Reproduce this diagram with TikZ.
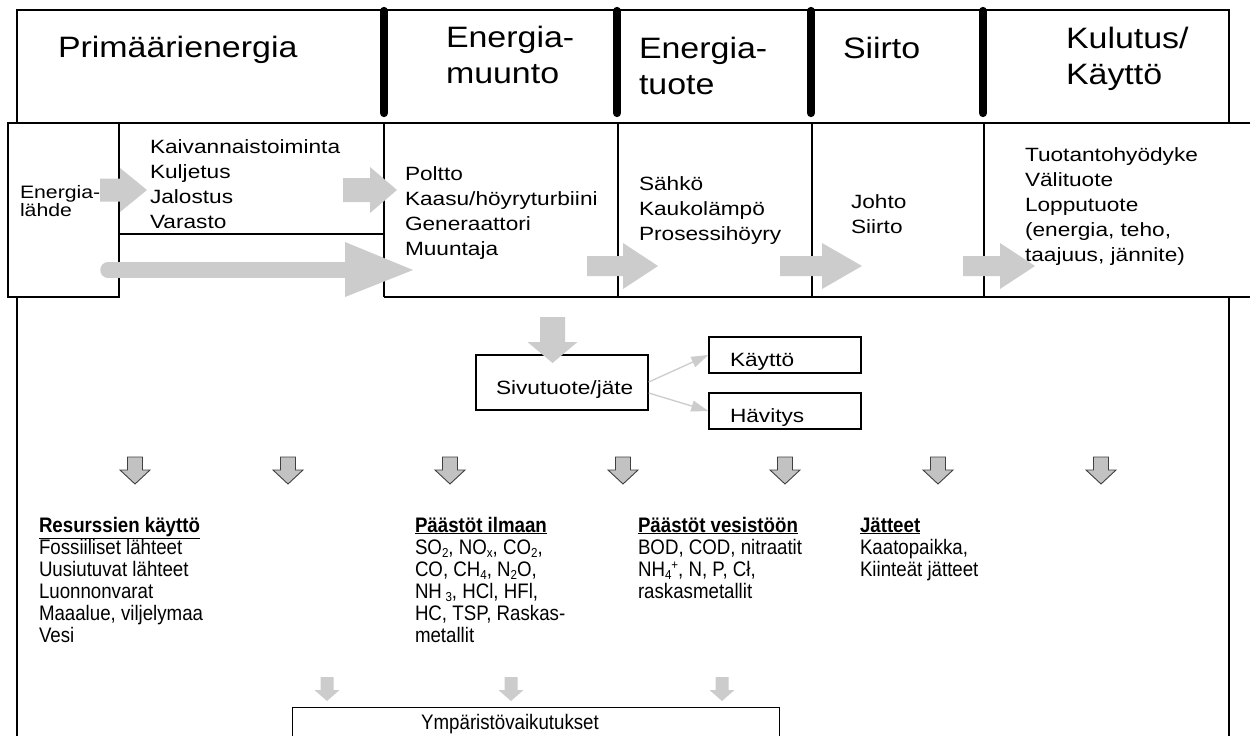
\documentclass[tikz,border=0pt]{standalone}
\usepackage{fontspec}
\setmainfont{Liberation Sans}
\newfontfamily\hdfont[FakeStretch=1.15]{Liberation Sans}
\newfontfamily\rwfont[FakeStretch=1.18]{Liberation Sans}
\newfontfamily\lwfont[FakeStretch=0.89]{Liberation Sans}
\usetikzlibrary{arrows.meta}
\definecolor{agray}{gray}{0.80}
\definecolor{ogray}{gray}{0.76}
\definecolor{odraw}{gray}{0.25}
\newcommand\hd[1]{\parbox[t]{300pt}{\hdfont\fontsize{29.5}{36}\selectfont #1}}
\newcommand\rw[2][25]{\parbox[t]{300pt}{\rwfont\fontsize{19.2}{#1}\selectfont #2}}
\newcommand\lw[1]{\parbox[t]{300pt}{\lwfont\fontsize{21}{22}\selectfont #1}}
\newcommand\sbs[1]{\raisebox{-3.5pt}{\fontsize{13}{12}\selectfont #1}}
\newcommand\sps[1]{\raisebox{7pt}{\fontsize{13}{12}\selectfont #1}}
\newcommand\RA[6]{\fill[flat] (#1,#4-#5) -- (#2,#4-#5) -- (#2,#4-#6) -- (#3,#4) -- (#2,#4+#6) -- (#2,#4+#5) -- (#1,#4+#5) -- cycle;}
\newcommand\DA[7]{\path[#1] (#2-#6,#3) -- (#2+#6,#3) -- (#2+#6,#4) -- (#2+#7,#4) -- (#2,#5) -- (#2-#7,#4) -- (#2-#6,#4) -- cycle;}
\begin{document}
\begin{tikzpicture}[x=1pt,y=-1pt,
  ln/.style={line width=1.6pt},
  sepbar/.style={line width=8.3pt, line cap=round},
  flat/.style={fill=agray},
  outl/.style={fill=ogray, draw=odraw, line width=0.9pt},
  txt/.style={anchor=base west, inner sep=0pt, outer sep=0pt},
  boxn/.style={draw, line width=1.4pt, inner sep=0pt},
  thinar/.style={draw=agray, line width=1.3pt, -{Triangle[length=17pt,width=11pt]}}]
\useasboundingbox (0,0) rectangle (1250,736);
\fill[white] (0,0) rectangle (1250,736);
% header
\draw[ln] (17,10) rectangle (1229,123);
\draw[ln] (8,123) -- (1250,123);
\draw[ln] (8,123) rectangle (119,297);
\draw[ln] (119,123) rectangle (384,234);
\foreach \x in {384,618,812,984} \draw[ln] (\x,123) -- (\x,297);
\draw[ln] (384,297) -- (1250,297);
\draw[ln] (17,297) -- (17,745);
\draw[ln] (1229,297) -- (1229,745);
\foreach \x in {384,617,811,983} \draw[sepbar] (\x,11) -- (\x,113);
% block arrows
\RA{100}{120}{147}{190}{11.5}{22}
\RA{343}{370}{397}{190}{12}{23}
\draw[agray, line width=15.5pt, line cap=round] (108,270) -- (346,270);
\fill[flat] (345,242) -- (413,270) -- (345,297) -- cycle;
\RA{587}{623}{658}{266}{10}{23}
\RA{780}{822}{862}{266}{10}{23}
\RA{963}{1000}{1035}{266}{10}{23}
% header texts
\node[txt] (hPrim) at (58,57.3) {\hd{Primäärienergia}};
\node[txt] (hMuunto) at (446,47.3) {\hd{Energia-\\muunto}};
\node[txt] (hTuote) at (639,58.3) {\hd{Energia-\\tuote}};
\node[txt] (hSiirto) at (843,58.3) {\hd{Siirto}};
\node[txt] (hKulutus) at (1066,48.3) {\hd{Kulutus/\\Käyttö}};
% row texts
\node[txt] (tLahde) at (20,198.3) {\parbox[t]{100pt}{\rwfont\fontsize{18}{15}\selectfont Energia-\\lähde}};
\node[txt] (tKaiv) at (150,153.3) {\rw{Kaivannaistoiminta\\Kuljetus\\Jalostus\\Varasto}};
\node[txt] (tPoltto) at (405,180) {\rw{Poltto\\Kaasu/höyryturbiini\\Generaattori\\Muuntaja}};
\node[txt] (tSahko) at (639,190) {\rw{Sähkö\\Kaukolämpö\\Prosessihöyry}};
\node[txt] (tJohto) at (851,208.3) {\rw{Johto\\Siirto}};
\node[txt] (tTuot) at (1025,161.7) {\rw{Tuotantohyödyke\\Välituote\\Lopputuote\\(energia, teho,\\taajuus, jännite)}};
% by-product
\node[boxn, minimum width=172pt, minimum height=55pt] (sivu) at (562,382.5) {};
\node[txt] (tSivu) at (496,394) {\rw{Sivutuote/jäte}};
\node[boxn, minimum width=152pt, minimum height=36pt] (kaytto) at (785,355) {};
\node[txt] (tKaytto) at (730,366) {\rw{Käyttö}};
\node[boxn, minimum width=152pt, minimum height=36pt] (havitys) at (785,411) {};
\node[txt] (tHav) at (730,422) {\rw{Hävitys}};
\draw[thinar] ([yshift=0.5pt]sivu.east) -- (kaytto.west);
\draw[thinar] ([yshift=-10.5pt]sivu.east) -- (havitys.west);
\DA{flat}{552.5}{317}{342}{363}{12.5}{25}
% small arrows
\foreach \x in {135,288,450,623,785,938,1101} {\DA{outl}{\x}{457}{470}{484}{7.5}{15}}
% lower texts
\node[txt] (cRes) at (39,532) {\lw{\underline{\textbf{Resurssien käyttö}}\\Fossiiliset lähteet\\Uusiutuvat lähteet\\Luonnonvarat\\Maaalue, viljelymaa\\Vesi}};
\node[txt] (cIlma) at (415,532) {\lw{\underline{\textbf{Päästöt ilmaan}}\\SO\sbs{2}, NO\sbs{x}, CO\sbs{2},\\CO, CH\sbs{4}, N\sbs{2}O,\\NH\,\sbs{3}, HCl, HFl,\\HC, TSP, Raskas-\\metallit}};
\node[txt] (cVesi) at (638,532) {\lw{\underline{\textbf{Päästöt vesistöön}}\\BOD, COD, nitraatit\\NH\sbs{4}\sps{+}, N, P, Cł,\\raskasmetallit}};
\node[txt] (cJate) at (860,532) {\lw{\underline{\textbf{Jätteet}}\\Kaatopaikka,\\Kiinteät jätteet}};
% impacts
\node[boxn, minimum width=487pt, minimum height=60pt, anchor=north west] (ymp) at (292,707) {};
\node[anchor=base, inner sep=0pt] (tYmp) at (510,729) {\lwfont\fontsize{21}{22}\selectfont Ympäristövaikutukset};
\foreach \x in {327,511,722} {\DA{flat}{\x}{677}{690}{701}{6.5}{12.5}}
\end{tikzpicture}
\end{document}
